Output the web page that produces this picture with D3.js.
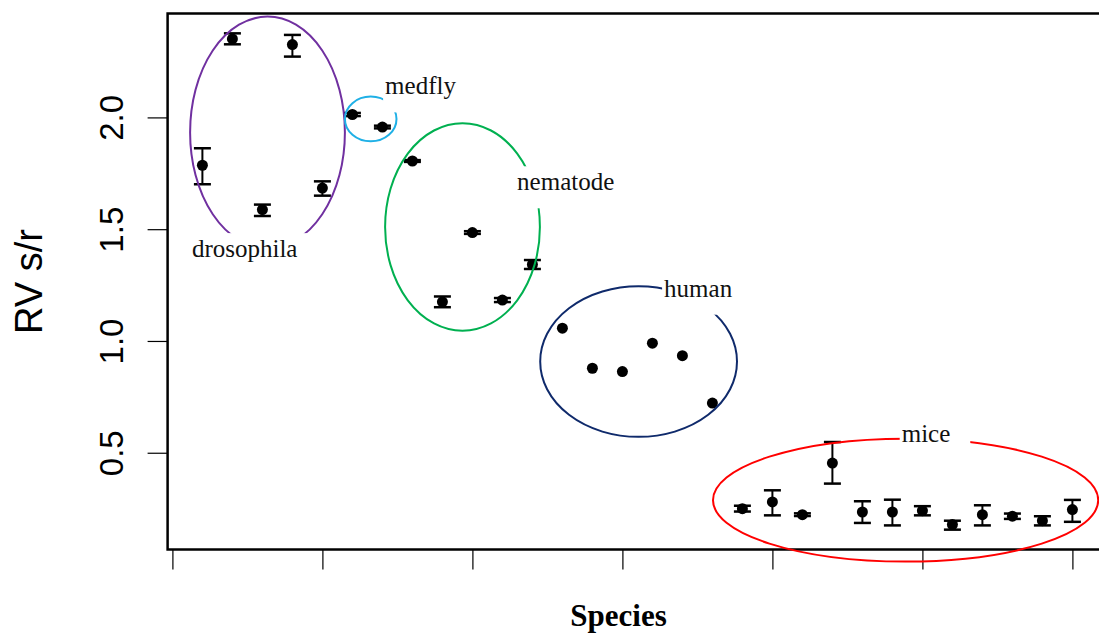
<!DOCTYPE html>
<html lang="en">
<head>
    <meta charset="UTF-8">
    <title>RV s/r by species</title>
    <script src="https://cdn.jsdelivr.net/npm/d3@7"></script>
    <style>
    html, body {
        margin: 0;
        padding: 0;
        background-color: #fff;
        overflow: hidden;
    }

    svg {
        display: block;
    }

    .tick text {
        font-family: "Liberation Sans", Arial, sans-serif;
        font-size: 33px;
        fill: #000;
    }

    .tick line {
        stroke: #000;
        stroke-width: 1.2px;
    }

    #y-title {
        font-family: "Liberation Sans", Arial, sans-serif;
        font-size: 38px;
    }

    #x-title {
        font-family: "Liberation Serif", "Times New Roman", serif;
        font-weight: bold;
        font-size: 31px;
    }

    .group-label {
        font-family: "Liberation Serif", "Times New Roman", serif;
        font-size: 25px;
        fill: #111;
    }
    </style>
</head>
<body>
    <svg id="canvas"></svg>

    <script>
    // Data: one point per species / strain, left to right
    let speciesIndex = [1, 2, 3, 4, 5, 6, 7, 8, 9, 10, 11, 12, 13, 14, 15,
                        16, 17, 18, 19, 20, 21, 22, 23, 24, 25, 26, 27, 28, 29, 30];
    let rvMean = [1.786, 2.351, 1.588, 2.326, 1.684, 2.013, 1.957, 1.805, 1.175, 1.485,
                  1.183, 1.342, 1.057, 0.878, 0.863, 0.990, 0.934, 0.722, 0.250, 0.280,
                  0.223, 0.454, 0.235, 0.235, 0.241, 0.179, 0.223, 0.216, 0.196, 0.246];
    let rvLow = [1.701, 2.327, 1.559, 2.272, 1.650, 2.006, 1.951, 1.801, 1.151, 1.479,
                 1.174, 1.322, 1.057, 0.878, 0.863, 0.990, 0.934, 0.722, 0.237, 0.220,
                 0.217, 0.362, 0.186, 0.175, 0.220, 0.156, 0.175, 0.204, 0.175, 0.191];
    let rvHigh = [1.862, 2.376, 1.610, 2.369, 1.714, 2.020, 1.963, 1.809, 1.199, 1.491,
                  1.192, 1.362, 1.057, 0.878, 0.863, 0.990, 0.934, 0.722, 0.263, 0.332,
                  0.229, 0.548, 0.283, 0.290, 0.261, 0.196, 0.265, 0.228, 0.216, 0.289];

    let yTicks = [0.5, 1.0, 1.5, 2.0];
    let xTicks = [0, 5, 10, 15, 20, 25, 30];

    // Group outlines drawn on top of the plot (data units)
    let groupNames = ['drosophila', 'medfly', 'nematode', 'human', 'mice'];
    let groupCx = [3.17, 6.61, 9.67, 15.54, 24.44];
    let groupCy = [1.933, 1.993, 1.51, 0.908, 0.288];
    let groupRx = [2.58, 0.86, 2.58, 3.28, 6.42];
    let groupRy = [0.518, 0.1, 0.464, 0.337, 0.275];
    let labelX = [0.65, 7.09, 11.49, 16.39, 24.31];
    let labelY = [1.375, 2.103, 1.674, 1.198, 0.55];

    let groupColors = {
        drosophila: '#7030a0',
        medfly: '#1fb0e6',
        nematode: '#00b050',
        human: '#0f2a6b',
        mice: '#ff0000'
    };

    let width = 1099;
    let height = 633;
    let box = {left: 167.6, right: 1107.2, top: 13.5, bottom: 549.5};
    let svg = d3.select('svg');
    let xScale;
    let yScale;

    let drawCanvas = () => {
        svg.attr('width', width).attr('height', height);
    };

    // R style scales: data range padded by 4% on each side
    let generateScales = () => {
        let xPad = (d3.max(speciesIndex) - d3.min(speciesIndex)) * 0.04;
        xScale = d3.scaleLinear()
                   .domain([d3.min(speciesIndex) - xPad, d3.max(speciesIndex) + xPad])
                   .range([box.left, box.right]);

        let yMin = d3.min(rvLow);
        let yMax = d3.max(rvHigh);
        let yPad = (yMax - yMin) * 0.04;
        yScale = d3.scaleLinear()
                   .domain([yMin - yPad, yMax + yPad])
                   .range([box.bottom, box.top]);
    };

    let drawGroups = () => {
        groupNames.forEach((name, i) => {
            let cx = xScale(groupCx[i]);
            let cy = yScale(groupCy[i]);
            svg.append('ellipse')
               .attr('cx', cx)
               .attr('cy', cy)
               .attr('rx', xScale(groupCx[i] + groupRx[i]) - cx)
               .attr('ry', yScale(groupCy[i] - groupRy[i]) - cy)
               .attr('fill', 'none')
               .attr('stroke', groupColors[name])
               .attr('stroke-width', 2);
        });

        // text boxes with white fill hide the outline behind them
        groupNames.forEach((name, i) => {
            let x = xScale(labelX[i]);
            let y = yScale(labelY[i]);
            let g = svg.append('g');
            let rect = g.append('rect').attr('fill', '#fff');
            let label = g.append('text')
                         .attr('class', 'group-label')
                         .attr('x', x)
                         .attr('y', y)
                         .text(name);
            let w = label.node().getComputedTextLength();
            rect.attr('x', x - 2)
                .attr('y', y - 24)
                .attr('width', w + 22)
                .attr('height', 42);
        });
    };

    let drawPoints = () => {
        let bars = speciesIndex.filter((d, i) => rvHigh[i] > rvLow[i]);
        let capHalf = 8.5;

        bars.forEach((d) => {
            let i = d - 1;
            let x = xScale(d);
            svg.append('line')
               .attr('x1', x).attr('x2', x)
               .attr('y1', yScale(rvLow[i])).attr('y2', yScale(rvHigh[i]))
               .attr('stroke', '#000')
               .attr('stroke-width', 2);
            [rvLow[i], rvHigh[i]].forEach((v) => {
                svg.append('line')
                   .attr('x1', x - capHalf).attr('x2', x + capHalf)
                   .attr('y1', yScale(v)).attr('y2', yScale(v))
                   .attr('stroke', '#000')
                   .attr('stroke-width', 2.5);
            });
        });

        svg.selectAll('circle.pt')
           .data(speciesIndex)
           .enter()
           .append('circle')
           .attr('class', 'pt')
           .attr('cx', (d) => xScale(d))
           .attr('cy', (d, i) => yScale(rvMean[i]))
           .attr('r', 5.5)
           .attr('fill', '#000');
    };

    let generateAxes = () => {
        let yAxis = d3.axisLeft(yScale)
                      .tickValues(yTicks)
                      .tickSize(20)
                      .tickSizeOuter(0)
                      .tickFormat(d3.format('.1f'));

        let yG = svg.append('g')
                    .attr('id', 'y-axis')
                    .attr('transform', 'translate(' + box.left + ', 0)')
                    .call(yAxis);
        yG.select('.domain').remove();
        yG.selectAll('.tick text')
          .attr('transform', 'rotate(-90)')
          .attr('x', 0)
          .attr('y', -44.5)
          .attr('dy', 0)
          .attr('text-anchor', 'middle');

        let xAxis = d3.axisBottom(xScale)
                      .tickValues(xTicks)
                      .tickSize(20)
                      .tickSizeOuter(0)
                      .tickFormat('');

        let xG = svg.append('g')
                    .attr('id', 'x-axis')
                    .attr('transform', 'translate(0, ' + box.bottom + ')')
                    .call(xAxis);
        xG.select('.domain').remove();

        // plot frame
        svg.append('rect')
           .attr('x', box.left)
           .attr('y', box.top)
           .attr('width', box.right - box.left)
           .attr('height', box.bottom - box.top)
           .attr('fill', 'none')
           .attr('stroke', '#000')
           .attr('stroke-width', 2.5);

        svg.append('text')
           .attr('id', 'y-title')
           .attr('transform', 'translate(42, ' + ((box.top + box.bottom) / 2) + ') rotate(-90)')
           .attr('text-anchor', 'middle')
           .text('RV s/r');

        svg.append('text')
           .attr('id', 'x-title')
           .attr('x', 618.5)
           .attr('y', 626)
           .attr('text-anchor', 'middle')
           .text('Species');
    };

    drawCanvas();
    generateScales();
    generateAxes();
    drawPoints();
    drawGroups();
    </script>
</body>
</html>
